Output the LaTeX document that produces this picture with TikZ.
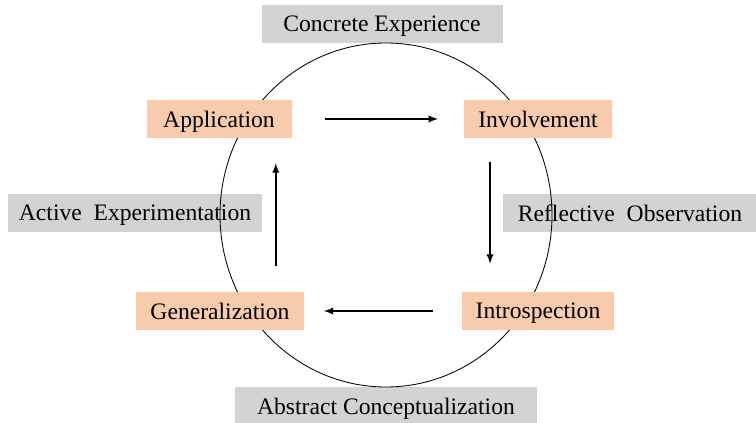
\documentclass[tikz,border=0pt]{standalone}
\usepackage{fontspec}
\setmainfont{Liberation Serif}
\usepackage{tikz}
\usetikzlibrary{arrows}

\definecolor{stagefill}{RGB}{248,203,173}
\definecolor{modefill}{RGB}{211,211,211}

\tikzset{
    stage/.style={fill=stagefill,minimum width=3.625cm,minimum height=0.95cm,inner xsep=0.35cm,text depth=0pt},
    mode/.style={fill=modefill,minimum height=0.95cm,text depth=0pt},
    flow/.style={-latex,line width=1.3pt},
}

\begin{document}
\begin{tikzpicture}[font=\fontsize{16.8}{20}\selectfont]
    \useasboundingbox (0,0) rectangle (18.9,-10.575);

    \node[mode,minimum width=6.025cm] (concrete) at (9.55,-0.6) {Concrete Experience};
    \node[mode,minimum width=6.35cm] (active) at (3.375,-5.325) {Active\ \ Experimentation};
    \node[mode,minimum width=6.35cm] (reflective) at (15.75,-5.325) {Reflective\ \ Observation};
    \node[mode,minimum width=7.55cm] (abstract) at (9.65,-10.15) {Abstract Conceptualization};

    \draw[semithick] (9.65,-5.375) ellipse (4.15cm and 4.3cm);

    \node[stage] (application) at (5.475,-2.975) {Application};
    \node[stage] (involvement) [right of=application,node distance=7.975cm] {Involvement};
    \node[stage] (introspection) [below of=involvement,node distance=4.8cm] {Introspection};
    \node[stage] (generalization) [left of=introspection,node distance=7.95cm] {Generalization};

    \draw[flow,shorten <=0.825cm,shorten >=0.65cm] (application) -- (involvement);
    \draw[flow,shorten <=0.6cm,shorten >=0.7cm] ([xshift=0.65cm]involvement.south west) -- ([xshift=0.65cm]involvement.south west |- introspection.north);
    \draw[flow,shorten <=0.7cm,shorten >=0.5cm] (introspection) -- (generalization);
    \draw[flow,shorten <=0.65cm,shorten >=0.625cm] ([xshift=-0.4cm]application.south east |- generalization.north) -- ([xshift=-0.4cm]application.south east);
\end{tikzpicture}
\end{document}
